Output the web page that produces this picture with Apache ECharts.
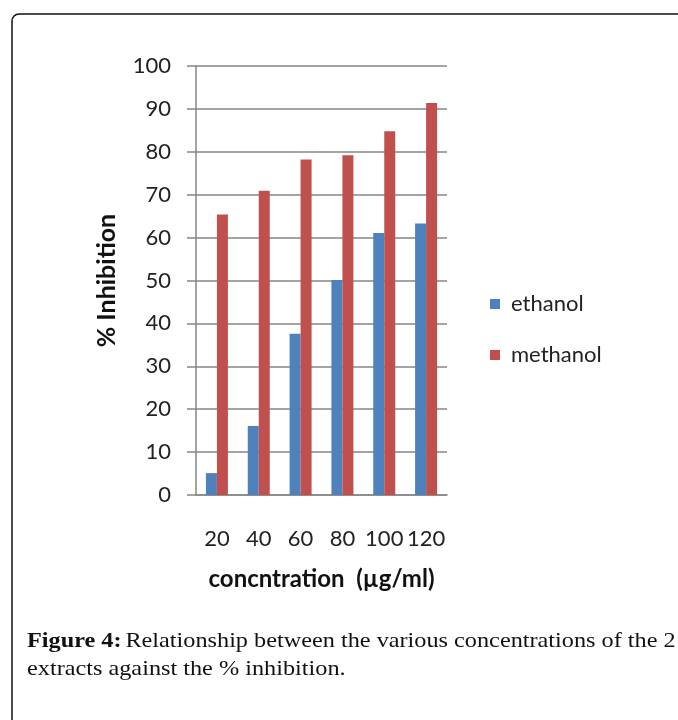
<!DOCTYPE html>
<html>
<head>
<meta charset="utf-8">
<script src="https://cdn.jsdelivr.net/npm/echarts@6/dist/echarts.min.js"></script>
<style>
  html, body { margin: 0; padding: 0; background: #fff; }
  #chart { width: 678px; height: 720px; }
</style>
</head>
<body>
<div id="chart"></div>
<script>
// Concentrations (µg/ml) and % inhibition for each extract
const concentrations = ['20', '40', '60', '80', '100', '120'];
const ethanolInhibition = [5.1, 16.1, 37.6, 50.1, 61.1, 63.3];
const methanolInhibition = [65.4, 70.9, 78.2, 79.2, 84.8, 91.4];
const seriesNames = ['ethanol', 'methanol'];

const chart = echarts.init(document.getElementById('chart'));
const labelFont = 'Lato';
const captionFont = 'Liberation Serif';

chart.setOption({
  animation: false,
  backgroundColor: '#ffffff',
  grid: { left: 196, right: 231, top: 66, bottom: 225 },
  legend: {
    orient: 'vertical',
    left: 485,
    top: 288,
    itemWidth: 10,
    itemHeight: 10,
    itemGap: 29,
    icon: 'rect',
    data: seriesNames,
    textStyle: { fontFamily: labelFont, fontSize: 22, color: '#222', padding: [0, 0, 0, 6] }
  },
  xAxis: {
    type: 'category',
    data: concentrations,
    axisLine: { lineStyle: { color: '#868686', width: 1.5 } },
    axisTick: { show: false },
    axisLabel: { interval: 0, margin: 33, fontFamily: labelFont, fontSize: 22, color: '#222' },
    name: 'concntration  (µg/ml)',
    nameLocation: 'middle',
    nameGap: 72,
    nameTextStyle: { fontFamily: labelFont, fontSize: 24, fontWeight: 'bold', color: '#111' }
  },
  yAxis: {
    type: 'value',
    min: 0,
    max: 100,
    interval: 10,
    axisLine: { show: true, lineStyle: { color: '#868686', width: 1.5 } },
    axisTick: { show: true, length: 9, lineStyle: { color: '#868686', width: 1.5 } },
    splitLine: { lineStyle: { color: '#868686', width: 1.5 } },
    axisLabel: { margin: 25, fontFamily: labelFont, fontSize: 22, color: '#222' },
    name: '% Inhibition',
    nameLocation: 'middle',
    nameRotate: 90,
    nameGap: 77,
    nameTextStyle: { fontFamily: labelFont, fontSize: 25, fontWeight: 'bold', color: '#111' }
  },
  series: [
    {
      name: seriesNames[0],
      type: 'bar',
      data: ethanolInhibition,
      barWidth: 11,
      barGap: '0%',
      itemStyle: { color: '#4F81BD' }
    },
    {
      name: seriesNames[1],
      type: 'bar',
      data: methanolInhibition,
      barWidth: 11,
      barGap: '0%',
      itemStyle: { color: '#C0504D' }
    }
  ],
  graphic: [
    {
      type: 'rect',
      shape: { x: 12, y: 14, width: 720, height: 760, r: 7 },
      style: { fill: 'none', stroke: '#111', lineWidth: 1.5 },
      silent: true
    },
    {
      type: 'text',
      x: 27,
      y: 631,
      scaleX: 1.155,
      style: {
        rich: {
          b: { fontFamily: captionFont, fontSize: 21, fontWeight: 'bold', fill: '#111' },
          n: { fontFamily: captionFont, fontSize: 21, fill: '#111' }
        },
        text: '{b|Figure 4:} {n|Relationship between the various concentrations of the 2}',
        fill: '#111'
      }
    },
    {
      type: 'text',
      x: 27,
      y: 659,
      scaleX: 1.155,
      style: {
        text: 'extracts against the % inhibition.',
        fontFamily: captionFont,
        fontSize: 21,
        fill: '#111'
      }
    }
  ]
});
</script>
</body>
</html>
